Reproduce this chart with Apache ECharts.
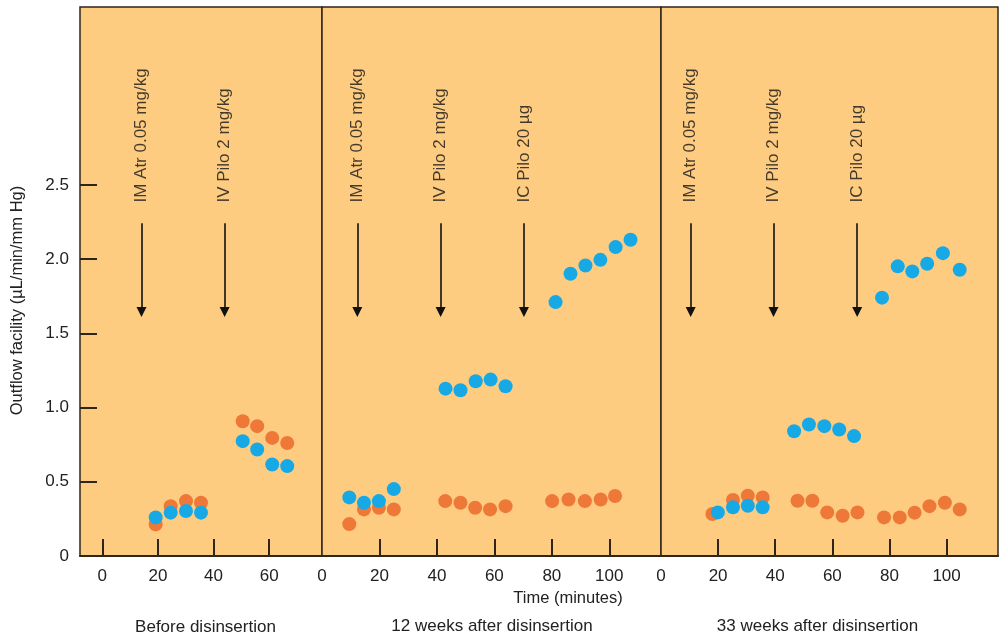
<!DOCTYPE html>
<html>
<head>
<meta charset="utf-8">
<script src="https://cdn.jsdelivr.net/npm/echarts@6/dist/echarts.min.js"></script>
<style>
html,body{margin:0;padding:0;background:#fff;}
#chart{width:1002px;height:638px;}
</style>
</head>
<body>
<div id="chart"></div>
<script>
// ---- Data (minutes, outflow facility µL/min/mm Hg) ----
const panelTitles = ['Before disinsertion', '12 weeks after disinsertion', '33 weeks after disinsertion'];
const yTickLabels = [0, 0.5, 1.0, 1.5, 2.0, 2.5];
const xTickLabels1 = [0, 20, 40, 60];
const xTickLabels2 = [0, 20, 40, 60, 80, 100];
const xTickLabels3 = [0, 20, 40, 60, 80, 100];

const panel1Orange = [[19.2,0.213],[24.6,0.336],[30.1,0.370],[35.5,0.359],[50.5,0.908],[55.7,0.875],[61.1,0.796],[66.5,0.762]];
const panel1Blue   = [[19.2,0.260],[24.6,0.292],[30.1,0.303],[35.5,0.292],[50.5,0.774],[55.7,0.718],[61.1,0.617],[66.5,0.606]];

const panel2Orange = [[9.5,0.215],[14.6,0.314],[19.8,0.325],[25.0,0.314],[42.9,0.370],[48.2,0.359],[53.3,0.325],[58.5,0.314],[63.9,0.336],[80.1,0.370],[85.8,0.381],[91.5,0.370],[97.0,0.381],[102.0,0.404]];
const panel2Blue   = [[9.5,0.395],[14.6,0.359],[19.8,0.370],[25.0,0.451],[43.0,1.128],[48.2,1.117],[53.5,1.178],[58.7,1.189],[63.9,1.144],[81.3,1.711],[86.5,1.902],[91.7,1.958],[96.9,1.996],[102.2,2.082],[107.4,2.131]];

const panel3Orange = [[18.0,0.283],[25.2,0.377],[30.4,0.406],[35.6,0.395],[47.8,0.372],[53.0,0.372],[58.2,0.294],[63.6,0.271],[68.8,0.294],[78.1,0.260],[83.6,0.260],[88.8,0.292],[94.0,0.336],[99.4,0.359],[104.6,0.314]];
const panel3Blue   = [[19.9,0.294],[25.2,0.328],[30.4,0.339],[35.6,0.328],[46.6,0.841],[51.8,0.886],[57.2,0.875],[62.4,0.853],[67.6,0.808],[77.4,1.741],[82.9,1.952],[88.0,1.918],[93.2,1.970],[98.7,2.041],[104.6,1.929]];

// injections: [minute, label]
const panel1Events = [[14.1,'IM Atr 0.05 mg/kg'],[44.0,'IV Pilo 2 mg/kg']];
const panel2Events = [[12.3,'IM Atr 0.05 mg/kg'],[41.3,'IV Pilo 2 mg/kg'],[70.3,'IC Pilo 20 µg']];
const panel3Events = [[10.4,'IM Atr 0.05 mg/kg'],[39.4,'IV Pilo 2 mg/kg'],[68.7,'IC Pilo 20 µg']];
const arrowTop = 2.243, arrowEnd = 1.645, labelBase = 2.382;

// ---- Styling ----
const FONT = 'Liberation Sans, Arial, sans-serif';
const BG = '#FECC80', DARK = '#2e2618', ORANGE = '#EE7838', BLUE = '#17A9E5';

const chart = echarts.init(document.getElementById('chart'), null, {renderer: 'canvas'});

const grids = [
  {left: 80, width: 242, top: 7, height: 549},
  {left: 322, width: 339, top: 7, height: 549},
  {left: 661, width: 337, top: 7, height: 549}
].map(g => Object.assign(g, {show: true, backgroundColor: BG, borderColor: DARK, borderWidth: 1.5}));

function xAxis(i, min, max, labels, ticks) {
  return {
    type: 'value', gridIndex: i, min: min, max: max,
    splitLine: {show: false},
    axisLine: {show: true, onZero: false, lineStyle: {color: DARK, width: 2}},
    axisTick: {show: true, inside: true, length: 17, customValues: ticks, lineStyle: {color: DARK, width: 2}},
    axisLabel: {show: true, customValues: labels, margin: 12, fontSize: 17, color: '#222', fontFamily: FONT}
  };
}
function yAxis(i, showLab) {
  return {
    type: 'value', gridIndex: i, min: 0, max: 3.7, position: 'left',
    splitLine: {show: false},
    axisLine: {show: false, onZero: false},
    axisTick: {show: showLab, inside: true, length: 17, customValues: yTickLabels.filter(v => v > 0), lineStyle: {color: DARK, width: 2}},
    axisLabel: {show: showLab, customValues: yTickLabels, margin: 11, fontSize: 17, color: '#222', fontFamily: FONT,
      formatter: v => v === 0 ? '0' : v.toFixed(1)},
    name: showLab ? 'Outflow facility (µL/min/mm Hg)' : '',
    nameLocation: 'middle', nameGap: 54, nameRotate: 90,
    nameTextStyle: {fontSize: 16.5, color: '#222', fontFamily: FONT, padding: [0, 0, 0, -38]}
  };
}

function dots(i, data, color) {
  return {type: 'scatter', xAxisIndex: i, yAxisIndex: i, data: data, symbolSize: 14,
    itemStyle: {color: color, opacity: 1}, silent: true, z: 3};
}
function events(i, evts) {
  return {
    type: 'scatter', xAxisIndex: i, yAxisIndex: i, symbolSize: 0, silent: true, z: 4,
    data: evts.map(e => [e[0], labelBase, e[1]]),
    label: {show: true, position: 'inside', rotate: 90, align: 'left', verticalAlign: 'middle',
      formatter: p => p.data[2], fontSize: 17, color: '#151515', fontFamily: FONT},
    markLine: {
      silent: true, symbol: ['none', 'triangle'], symbolSize: 10,
      itemStyle: {color: '#111'},
      lineStyle: {color: '#111', width: 1.6, type: 'solid'},
      label: {show: false},
      data: evts.map(e => [{coord: [e[0], arrowTop]}, {coord: [e[0], arrowEnd]}])
    }
  };
}

const option = {
  animation: false,
  backgroundColor: '#fff',
  grid: grids,
  xAxis: [
    xAxis(0, -8, 79, xTickLabels1, xTickLabels1),
    xAxis(1, 0, 118, xTickLabels2, xTickLabels2.filter(v => v > 0)),
    xAxis(2, 0, 118, xTickLabels3, xTickLabels3.filter(v => v > 0))
  ],
  yAxis: [yAxis(0, true), yAxis(1, false), yAxis(2, false)],
  series: [
    dots(0, panel1Orange, ORANGE), dots(0, panel1Blue, BLUE), events(0, panel1Events),
    dots(1, panel2Orange, ORANGE), dots(1, panel2Blue, BLUE), events(1, panel2Events),
    dots(2, panel3Orange, ORANGE), dots(2, panel3Blue, BLUE), events(2, panel3Events)
  ],
  graphic: [
    {type: 'text', x: 205.5, y: 627, style: {text: panelTitles[0], fontSize: 17, fill: '#222', fontFamily: FONT, align: 'center', verticalAlign: 'middle'}},
    {type: 'text', x: 492, y: 626, style: {text: panelTitles[1], fontSize: 17, fill: '#222', fontFamily: FONT, align: 'center', verticalAlign: 'middle'}},
    {type: 'text', x: 817.5, y: 626, style: {text: panelTitles[2], fontSize: 17, fill: '#222', fontFamily: FONT, align: 'center', verticalAlign: 'middle'}},
    {type: 'text', x: 568, y: 598, style: {text: 'Time (minutes)', fontSize: 16.5, fill: '#222', fontFamily: FONT, align: 'center', verticalAlign: 'middle'}}
  ]
};
chart.setOption(option);
</script>
</body>
</html>
